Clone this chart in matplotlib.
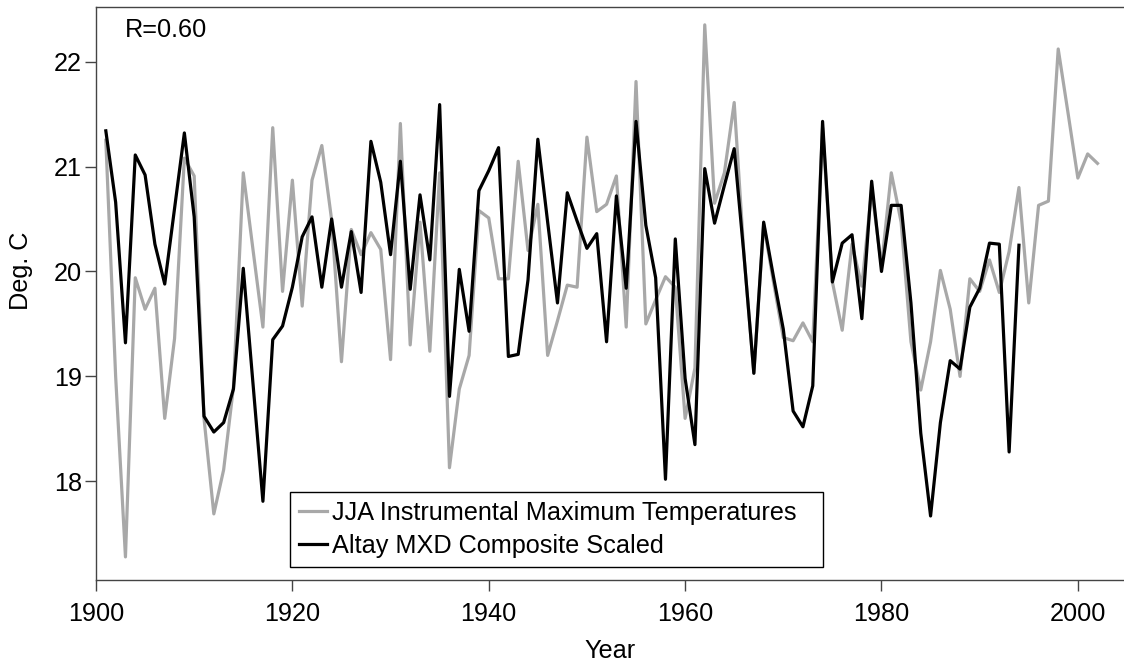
#!/usr/bin/env python3

import numpy as np
import matplotlib
matplotlib.use("Agg")
import matplotlib.pyplot as plt

# JJA instrumental maximum temperatures, 1901-2002
jja_years = np.arange(1901, 2003)
jja_temps = [
    21.25, 19.00, 17.28, 19.94, 19.64, 19.84, 18.60, 19.36, 21.08, 20.91,
    18.60, 17.69, 18.11, 18.90, 20.94, 20.20, 19.47, 21.37, 19.81, 20.87,
    19.67, 20.87, 21.20, 20.49, 19.14, 20.40, 20.16, 20.37, 20.21, 19.16,
    21.41, 19.30, 20.47, 19.24, 20.94, 18.13, 18.88, 19.20, 20.58, 20.51,
    19.93, 19.93, 21.05, 20.20, 20.64, 19.20, 19.53, 19.87, 19.85, 21.28,
    20.57, 20.64, 20.91, 19.47, 21.81, 19.50, 19.73, 19.95, 19.85, 18.60,
    19.08, 22.35, 20.65, 20.94, 21.61, 20.15, 19.03, 20.45, 19.90, 19.37,
    19.34, 19.51, 19.33, 21.37, 19.90, 19.44, 20.26, 19.86, 20.78, 20.05,
    20.94, 20.47, 19.33, 18.87, 19.33, 20.01, 19.64, 19.00, 19.93, 19.81,
    20.11, 19.80, 20.19, 20.80, 19.70, 20.63, 20.67, 22.12, 21.51, 20.89,
    21.12, 21.03,
]

# Altay MXD composite, scaled, 1901-1994
mxd_years = np.arange(1901, 1995)
mxd_temps = [
    21.34, 20.66, 19.32, 21.11, 20.92, 20.26, 19.88, 20.60, 21.32, 20.52,
    18.62, 18.47, 18.56, 18.88, 20.03, 18.92, 17.81, 19.35, 19.48, 19.85,
    20.33, 20.52, 19.85, 20.50, 19.85, 20.38, 19.80, 21.24, 20.85, 20.16,
    21.05, 19.83, 20.73, 20.11, 21.59, 18.81, 20.02, 19.43, 20.77, 20.96,
    21.18, 19.19, 19.21, 19.92, 21.26, 20.47, 19.70, 20.75, 20.48, 20.22,
    20.36, 19.33, 20.72, 19.84, 21.43, 20.44, 19.94, 18.02, 20.31, 18.98,
    18.35, 20.98, 20.46, 20.82, 21.17, 20.15, 19.03, 20.47, 19.95, 19.45,
    18.67, 18.52, 18.91, 21.43, 19.90, 20.27, 20.35, 19.55, 20.86, 20.00,
    20.63, 20.63, 19.70, 18.46, 17.67, 18.56, 19.15, 19.07, 19.66, 19.84,
    20.27, 20.26, 18.28, 20.25,
]

x_ticks = [1900, 1920, 1940, 1960, 1980, 2000]
y_ticks = [18, 19, 20, 21, 22]
r_label = "R=0.60"

FS = 18.2
AXIS_COLOR = "#444444"


def plot_chart():
    plt.rcParams["font.family"] = ["Liberation Sans", "DejaVu Sans"]

    fig = plt.figure(figsize=(11.24, 6.63), dpi=100)
    ax = fig.add_axes([96 / 1124, 1 - 580 / 663, 1 - 96 / 1124, (580 - 7) / 663])

    ax.plot(jja_years, jja_temps, color="#a8a8a8", lw=2.3,
            label="JJA Instrumental Maximum Temperatures")
    ax.plot(mxd_years, mxd_temps, color="black", lw=2.3,
            label="Altay MXD Composite Scaled")

    ax.set_xlim(1900, 2004.7)
    ax.set_ylim(17.06, 22.52)
    ax.set_xticks(x_ticks)
    ax.set_yticks(y_ticks)

    for side in ("left", "bottom", "top"):
        ax.spines[side].set_color(AXIS_COLOR)
        ax.spines[side].set_linewidth(1.0)
    ax.spines["right"].set_visible(False)

    ax.tick_params(axis="both", direction="out", length=8, width=1.0,
                   color=AXIS_COLOR, labelsize=FS)
    ax.tick_params(axis="x", pad=8)
    ax.tick_params(axis="y", pad=2)

    ax.set_xlabel("Year", fontsize=FS)
    ax.set_ylabel("Deg. C", fontsize=FS)
    ax.xaxis.set_label_coords(0.5, -0.103)
    ax.yaxis.set_label_coords(-0.061, 0.54)

    ax.text(0.028, 0.96, r_label, transform=ax.transAxes, fontsize=FS,
            ha="left", va="center")

    leg = ax.legend(loc="lower left", bbox_to_anchor=(0.1887, 0.0227, 0.5185, 0.1),
                    mode="expand", borderaxespad=0, fontsize=FS, handlelength=1.1,
                    handletextpad=0.2, borderpad=0.35, labelspacing=0.35,
                    fancybox=False, framealpha=1)
    leg.get_frame().set_edgecolor("black")
    leg.get_frame().set_linewidth(1.0)

    fig.savefig("out.png", dpi=100)


def main():
    plot_chart()


if __name__ == "__main__":
    main()
